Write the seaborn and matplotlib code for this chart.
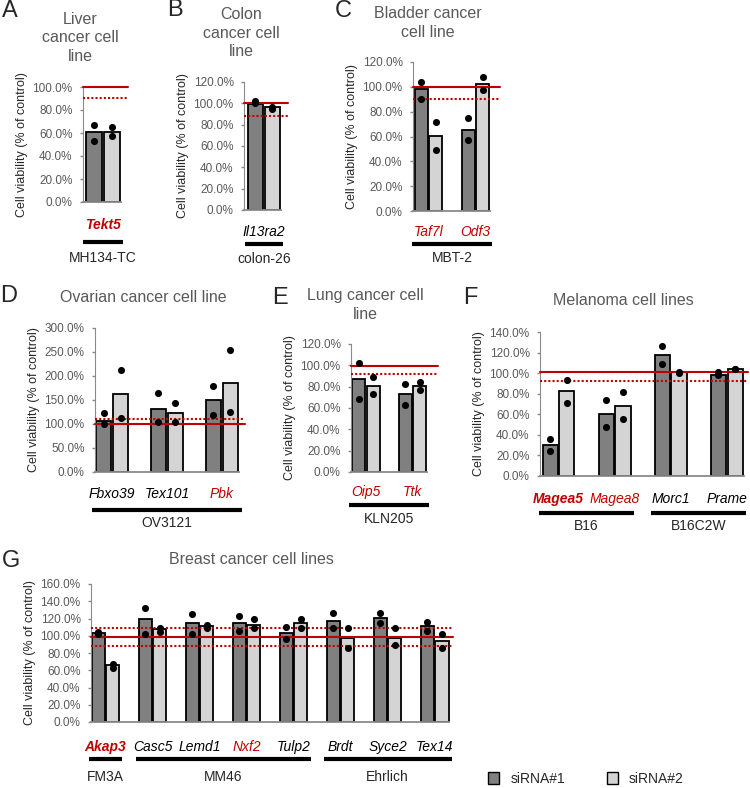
import numpy as np
import pandas as pd
import matplotlib.pyplot as plt
import matplotlib.transforms as mtransforms
import seaborn as sns
from matplotlib.ticker import PercentFormatter, MultipleLocator
from matplotlib.patches import Patch

# ===================== data (% of control) =====================
# A: liver
a_genes = ['Tekt5']
a_bar1 = [61]
a_bar2 = [61]
a_pts1 = [[67, 53]]
a_pts2 = [[65.5, 57]]

# B: colon
b_genes = ['Il13ra2']
b_bar1 = [99]
b_bar2 = [97]
b_pts1 = [[102, 100]]
b_pts2 = [[97, 95]]

# C: bladder
c_genes = ['Taf7l', 'Odf3']
c_bar1 = [98.4, 65.5]
c_bar2 = [60.4, 102.4]
c_pts1 = [[104, 90.5], [75, 57]]
c_pts2 = [[71.4, 49], [108, 97.6]]

# D: ovarian
d_genes = ['Fbxo39', 'Tex101', 'Pbk']
d_bar1 = [107, 132, 150]
d_bar2 = [162, 122, 186]
d_pts1 = [[122, 100.5], [165, 104.7], [179, 118.6]]
d_pts2 = [[213, 111.6], [144, 104.7], [254, 124]]

# E: lung
e_genes = ['Oip5', 'Ttk']
e_bar1 = [87, 73]
e_bar2 = [81, 81]
e_pts1 = [[102, 68.6], [82.4, 62.4]]
e_pts2 = [[88.6, 73.5], [84, 76.5]]

# F: melanoma
f_genes = ['Magea5', 'Magea8', 'Morc1', 'Prame']
f_bar1 = [30.5, 60.3, 117.3, 98.5]
f_bar2 = [82.6, 68.4, 101, 104.3]
f_pts1 = [[36.3, 24], [74, 47.6], [126.4, 108.9], [101, 98]]
f_pts2 = [[93, 71], [82, 55.4], [101, 100.5], [104.3, 104]]

# G: breast
g_genes = ['Akap3', 'Casc5', 'Lemd1', 'Nxf2', 'Tulp2', 'Brdt', 'Syce2', 'Tex14']
g_bar1 = [103.5, 119, 115, 115, 103.5, 116.6, 120.5, 110.8]
g_bar2 = [66, 107.5, 111, 113, 114.7, 97.7, 97.7, 93.8]
g_pts1 = [[104, 102.5], [132.4, 102], [124.7, 102], [122.8, 105.8],
          [109.7, 96], [126.6, 108.5], [126.6, 115], [116, 105.8]]
g_pts2 = [[67, 63], [108.5, 104.6], [112, 109], [119, 108.5],
          [119.3, 108.5], [108.5, 85.3], [108.5, 88.8], [102.3, 85.3]]

# cell lines under gene groups: (name, first gene index, last gene index)
a_cells = [('MH134-TC', 0, 0)]
b_cells = [('colon-26', 0, 0)]
c_cells = [('MBT-2', 0, 1)]
d_cells = [('OV3121', 0, 2)]
e_cells = [('KLN205', 0, 1)]
f_cells = [('B16', 0, 1), ('B16C2W', 2, 3)]
g_cells = [('FM3A', 0, 0), ('MM46', 1, 4), ('Ehrlich', 5, 7)]

RED_GENES = {'Tekt5', 'Taf7l', 'Odf3', 'Pbk', 'Oip5', 'Ttk', 'Magea5', 'Magea8', 'Akap3', 'Nxf2'}
BOLD_GENES = {'Tekt5', 'Magea5', 'Akap3'}

# ===================== style =====================
sns.set_style('white')
plt.rcParams['font.family'] = ['Liberation Sans', 'DejaVu Sans']

RED = '#c00000'
DARK = '#808080'
LIGHT = '#d4d4d4'
GRAY = '#8a8a8a'
TXT = '#595959'
PALETTE = {'siRNA#1': DARK, 'siRNA#2': LIGHT}

W, H = 750, 788
fig = plt.figure(figsize=(W / 100, H / 100), dpi=100)


def draw_panel(rect, genes, bar1, bar2, pts1, pts2, ymax, ystep, solid, dotted,
               cells, xlim, width=0.62, offs=(22, 36, 50)):
    left, right, top, bottom = rect
    ax = fig.add_axes([left / W, 1 - bottom / H, (right - left) / W, (bottom - top) / H])
    df = pd.DataFrame({
        'gene': genes * 2,
        'siRNA': ['siRNA#1'] * len(genes) + ['siRNA#2'] * len(genes),
        'value': list(bar1) + list(bar2),
    })
    sns.barplot(data=df, x='gene', y='value', hue='siRNA', order=genes,
                hue_order=['siRNA#1', 'siRNA#2'], palette=PALETTE, width=width,
                gap=0.1, saturation=1, edgecolor='black', linewidth=1.3,
                errorbar=None, legend=False, ax=ax)
    # replicate dots on each bar
    for cont, pts in zip(ax.containers, [pts1, pts2]):
        for bar, vals in zip(cont, pts):
            xc = bar.get_x() + bar.get_width() / 2
            ax.scatter([xc] * len(vals), vals, s=26, color='black',
                       linewidths=0, zorder=5, clip_on=False)
    ax.axhline(solid, color=RED, lw=1.5, zorder=4, clip_on=False)
    for d in dotted:
        ax.axhline(d, color=RED, lw=1.5, ls=(0, (1, 1)), zorder=4, clip_on=False)

    ax.set_xlim(*xlim)
    ax.set_ylim(0, ymax)
    sns.despine(ax=ax)
    ax.spines['left'].set_color(GRAY)
    ax.spines['bottom'].set_color(GRAY)
    ax.spines['bottom'].set_linewidth(1.3)
    ax.spines['left'].set_bounds(0, ymax)
    ax.spines['bottom'].set_bounds(xlim[0], len(genes) - 1 + width / 2)

    ax.yaxis.set_major_locator(MultipleLocator(ystep))
    ax.yaxis.set_major_formatter(PercentFormatter(100, decimals=1))
    ax.tick_params(axis='y', left=True, direction='out', length=2.5, width=1,
                   color=GRAY, labelcolor=TXT, labelsize=8.5, pad=5)
    ax.set_xlabel('')
    ax.set_ylabel('Cell viability (% of control)', fontsize=9, labelpad=3)

    ax.set_xticks(range(len(genes)))
    ax.set_xticklabels(genes)
    ax.tick_params(axis='x', bottom=False, length=0, pad=(offs[0] - 7) * 0.72)
    for lab, g in zip(ax.get_xticklabels(), genes):
        lab.set_fontsize(10)
        lab.set_fontstyle('italic')
        lab.set_color(RED if g in RED_GENES else 'black')
        lab.set_fontweight('bold' if g in BOLD_GENES else 'normal')

    blend = mtransforms.blended_transform_factory(ax.transData, fig.transFigure)
    for name, i0, i1 in cells:
        x0 = i0 - width / 2 - 0.05
        x1 = i1 + width / 2 + 0.05
        yl = 1 - (bottom + offs[1]) / H
        ax.plot([x0, x1], [yl, yl], color='black', lw=3, transform=blend,
                clip_on=False, solid_capstyle='butt')
        ax.text((x0 + x1) / 2, 1 - (bottom + offs[2]) / H, name, transform=blend,
                ha='center', va='center', fontsize=10)
    return ax


# rect = (left, right, top, bottom) in pixels
draw_panel((83, 128, 87, 202), a_genes, a_bar1, a_bar2, a_pts1, a_pts2,
           100, 20, 100, [90], a_cells, (-0.445, 0.565), width=0.8, offs=(23, 40, 56))
draw_panel((244, 288, 82, 210), b_genes, b_bar1, b_bar2, b_pts1, b_pts2,
           120, 20, 100, [88], b_cells, (-0.464, 0.572), width=0.8, offs=(22, 34, 49))
draw_panel((413, 500, 62, 211), c_genes, c_bar1, c_bar2, c_pts1, c_pts2,
           120, 20, 99.5, [90], c_cells, (-0.33, 1.52), offs=(21, 33, 47))
draw_panel((95, 245, 328, 472), d_genes, d_bar1, d_bar2, d_pts1, d_pts2,
           300, 50, 101, [111], d_cells, (-0.31, 2.42), offs=(22, 38, 51))
draw_panel((351, 438, 344, 472), e_genes, e_bar1, e_bar2, e_pts1, e_pts2,
           120, 20, 99.5, [92], e_cells, (-0.32, 1.55), offs=(20, 33, 47))
draw_panel((540, 748, 332, 476), f_genes, f_bar1, f_bar2, f_pts1, f_pts2,
           140, 20, 101, [92], f_cells, (-0.33, 3.38), width=0.6, offs=(23, 37, 50))
draw_panel((91, 453, 584, 722), g_genes, g_bar1, g_bar2, g_pts1, g_pts2,
           160, 20, 98, [109, 88], g_cells, (-0.31, 7.39), offs=(25, 37, 55))

# ===================== titles and panel letters =====================
titles = [
    ('Liver\ncancer cell\nline', 80, 38),
    ('Colon\ncancer cell\nline', 241, 33),
    ('Bladder cancer\ncell line', 428, 23),
    ('Ovarian cancer cell line', 143, 297),
    ('Lung cancer cell\nline', 365, 305),
    ('Melanoma cell lines', 623, 301),
    ('Breast cancer cell lines', 251, 560),
]
for txt, x, y in titles:
    fig.text(x / W, 1 - y / H, txt, ha='center', va='center', fontsize=11.5,
             color=TXT, linespacing=1.3)

letters = [('A', 2, 11), ('B', 167, 10), ('C', 335, 11), ('D', 0, 296),
           ('E', 272, 298), ('F', 463, 298), ('G', 2, 561)]
for txt, x, y in letters:
    fig.text(x / W, 1 - y / H, txt, ha='left', va='center', fontsize=17)

fig.legend(handles=[Patch(facecolor=DARK, edgecolor='black', label='siRNA#1'),
                    Patch(facecolor=LIGHT, edgecolor='black', label='siRNA#2')],
           loc='center', bbox_to_anchor=(586 / W, 1 - 779 / H), ncol=2, frameon=False,
           fontsize=10, handlelength=0.8, handleheight=1.0, columnspacing=3.0,
           handletextpad=0.8)

plt.savefig('out.png', dpi=100)
